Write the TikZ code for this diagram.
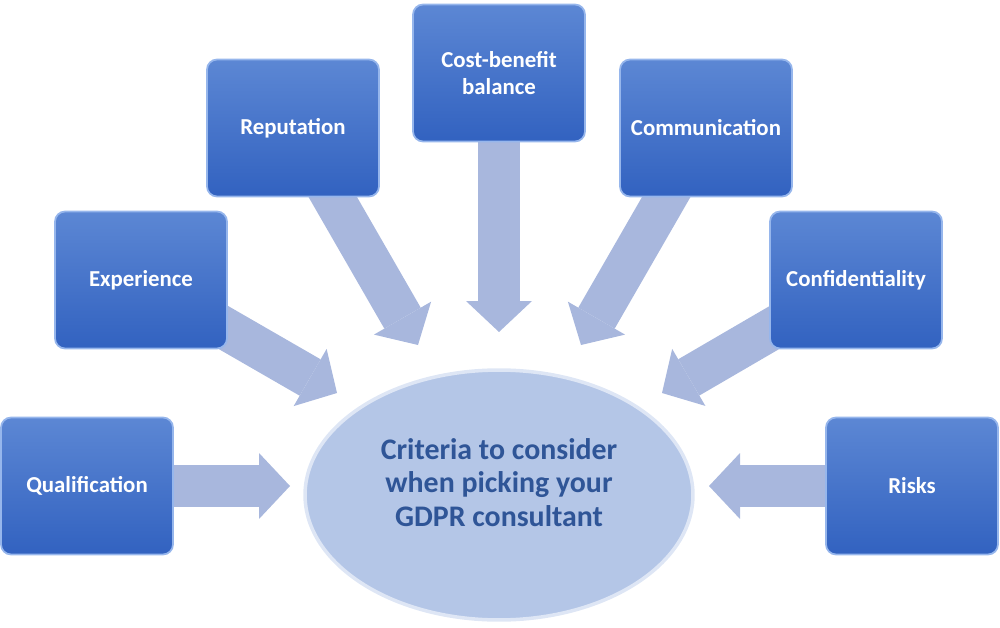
\documentclass[tikz,border=0pt]{standalone}
\usepackage{fontspec}
\setmainfont{Carlito}
\usetikzlibrary{arrows.meta, shapes.geometric, backgrounds}
\definecolor{boxtop}{RGB}{92,135,212}
\definecolor{boxbot}{RGB}{50,98,192}
\definecolor{boxedge}{RGB}{150,182,236}
\definecolor{arrowfill}{RGB}{168,183,221}
\definecolor{hubfill}{RGB}{180,198,231}
\definecolor{hubedge}{RGB}{222,230,245}
\definecolor{hubtext}{RGB}{47,85,151}
\tikzset{
    %Define block arrow
    blockarrow/.style={draw=arrowfill, line width=0.84cm,
        -{Triangle[width=1.32cm, length=0.62cm, line width=0pt]}},
}

\begin{document}
\begin{tikzpicture}[
    x=0.02cm, y=-0.02cm,
    crit/.style = {draw=boxedge, line width=1pt, rounded corners=0.2cm,
                   top color=boxtop, bottom color=boxbot,
                   minimum width=3.44cm, minimum height=2.74cm,
                   text=white, align=center,
                   font=\bfseries\fontsize{13}{15.5}\selectfont},
    hub/.style = {ellipse, draw=hubedge, fill=hubfill, line width=2pt,
                  minimum width=7.76cm, minimum height=5cm,
                  text=hubtext, align=center, text depth=0.5cm,
                  font=\bfseries\fontsize{17}{18.8}\selectfont},
  ]
  \useasboundingbox (0,0) rectangle (1000,628);

  \node[hub] (criteria) at (499,495)
    {Criteria to consider\\when picking your\\GDPR consultant};

  \node[crit] (qual) at (87,486) {Qualification};
  \node[crit] (exp)  at (141,280) {Experience};
  \node[crit] (rep)  at (293,128) {Reputation};
  \node[crit] (cost) at (499,73) {Cost-benefit\\balance};
  \node[crit] (comm) at (706,128) {Communication};
  \node[crit] (conf) at (856,280) {Confidentiality};
  \node[crit] (risk) at (912,486) {Risks};

  \coordinate (qual-tip) at (290,486);
  \coordinate (exp-tip)  at (337,393);
  \coordinate (rep-tip)  at (418,345);
  \coordinate (cost-tip) at (499,332);
  \coordinate (comm-tip) at (581,345);
  \coordinate (conf-tip) at (662,393);
  \coordinate (risk-tip) at (709,486);

  \begin{scope}[on background layer]
    \draw[blockarrow] (qual.center) -- (qual-tip);
    \draw[blockarrow] (exp.center) -- (exp-tip);
    \draw[blockarrow] (rep.center) -- (rep-tip);
    \draw[blockarrow] (cost.center) -- (cost-tip);
    \draw[blockarrow] (comm.center) -- (comm-tip);
    \draw[blockarrow] (conf.center) -- (conf-tip);
    \draw[blockarrow] (risk.center) -- (risk-tip);
  \end{scope}
\end{tikzpicture}
\end{document}
